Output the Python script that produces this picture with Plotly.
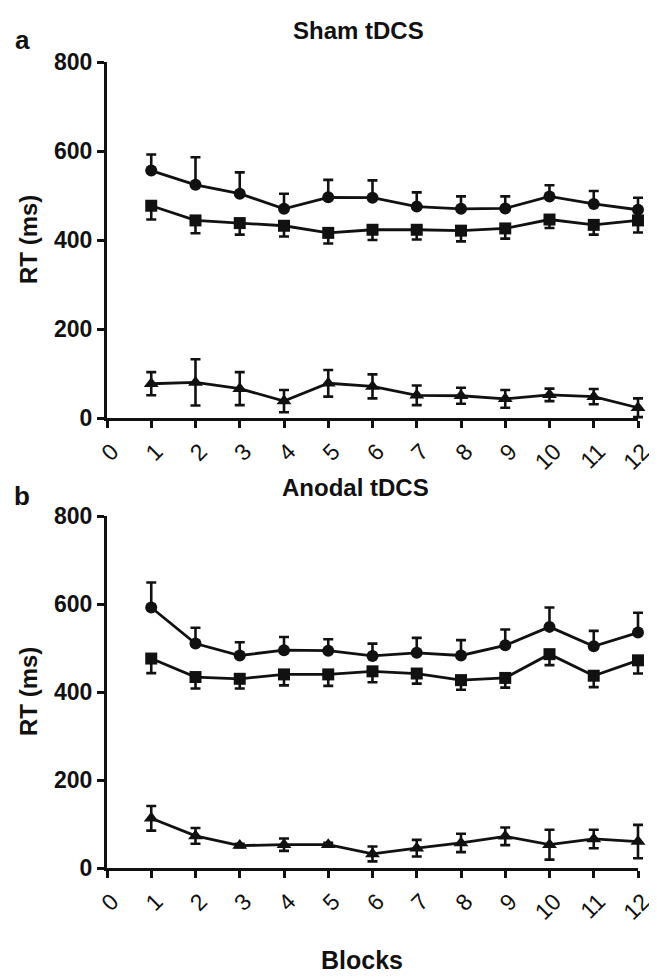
import plotly.graph_objects as go

blocks = list(range(1, 13))
x_ticks = list(range(0, 13))
y_ticks = [0, 200, 400, 600, 800]

# Panel a: Sham tDCS
sham_circle = [556, 524, 504, 470, 496, 495, 475, 470, 471, 498, 481, 468]
sham_circle_err = [36, 62, 48, 34, 39, 39, 32, 28, 27, 25, 29, 27]
sham_square = [477, 444, 438, 432, 416, 423, 423, 421, 426, 446, 434, 444]
sham_square_err = [31, 29, 26, 24, 24, 23, 22, 24, 23, 19, 22, 27]
sham_tri = [77, 80, 66, 38, 78, 71, 51, 50, 43, 52, 48, 23]
sham_tri_err = [26, 52, 37, 25, 30, 27, 22, 18, 20, 14, 17, 21]

# Panel b: Anodal tDCS
anod_circle = [592, 510, 483, 495, 494, 482, 489, 483, 506, 548, 504, 535]
anod_circle_err = [57, 36, 30, 30, 26, 28, 34, 35, 36, 44, 35, 45]
anod_square = [476, 434, 430, 440, 440, 447, 442, 427, 432, 486, 437, 472]
anod_square_err = [33, 26, 22, 25, 26, 25, 23, 22, 22, 25, 26, 30]
anod_tri = [113, 73, 51, 53, 53, 32, 45, 57, 72, 53, 66, 60]
anod_tri_err = [28, 18, 4, 14, 4, 17, 19, 21, 20, 34, 21, 38]

OFF = 8                      # default page body margin
W, H = 657 - OFF, 978 - OFF  # figure size so that it fits the window
FONT = "Liberation Sans, Arial, sans-serif"
BLACK = "#111111"

# pixel geometry of the plot areas (window coordinates)
X0, X1 = 107 - OFF, 638 - OFF
TOP_Y0, TOP_Y1 = 418 - OFF, 62 - OFF     # rows of y=0 and y=800
BOT_Y0, BOT_Y1 = 868 - OFF, 516 - OFF
XPAD, YPAD = 0.3, 40         # padding (data units) for the invisible data axes

fig = go.Figure()

def add_series(xa, ya, y, err, symbol, mode):
    zeros = [0] * len(y)
    if mode == "up":
        ey = dict(type="data", symmetric=False, array=err, arrayminus=zeros,
                  color=BLACK, thickness=2.6, width=5)
    elif mode == "down":
        ey = dict(type="data", symmetric=False, array=zeros, arrayminus=err,
                  color=BLACK, thickness=2.6, width=5)
    else:
        ey = dict(type="data", symmetric=True, array=err,
                  color=BLACK, thickness=2.6, width=5)
    fig.add_trace(go.Scatter(
        x=blocks, y=y, xaxis=xa, yaxis=ya, mode="lines+markers",
        line=dict(color=BLACK, width=2.8),
        marker=dict(symbol=symbol, size=12 if symbol != "triangle-up" else 13,
                    color=BLACK, line=dict(width=0)),
        error_y=ey, cliponaxis=False, showlegend=False, hoverinfo="skip"))

# dummy traces so the visible axes are rendered
fig.add_trace(go.Scatter(x=[None], y=[None], xaxis="x", yaxis="y", showlegend=False))
fig.add_trace(go.Scatter(x=[None], y=[None], xaxis="x2", yaxis="y2", showlegend=False))

add_series("x3", "y3", sham_circle, sham_circle_err, "circle", "up")
add_series("x3", "y3", sham_square, sham_square_err, "square", "down")
add_series("x3", "y3", sham_tri, sham_tri_err, "triangle-up", "both")
add_series("x4", "y4", anod_circle, anod_circle_err, "circle", "up")
add_series("x4", "y4", anod_square, anod_square_err, "square", "down")
add_series("x4", "y4", anod_tri, anod_tri_err, "triangle-up", "both")

pxu = (X1 - X0) / 12.0
xd = [X0 / W, X1 / W]
xd_wide = [(X0 - XPAD * pxu) / W, (X1 + XPAD * pxu) / W]

def ydom(y0, y1, pad=0.0):
    pyu = (y0 - y1) / 800.0
    return [1 - (y0 + pad * pyu) / H, 1 - (y1 - pad * pyu) / H]

xaxis_common = dict(
    range=[0, 12], tickvals=x_ticks, ticktext=[str(v) for v in x_ticks],
    tickangle=-45, ticks="outside", ticklen=7, tickwidth=3, tickcolor=BLACK,
    showline=True, linewidth=3, linecolor=BLACK, showgrid=False, zeroline=False,
    tickfont=dict(family=FONT, size=23, color=BLACK), domain=xd,
    ticklabelstandoff=1, ticklabelshift=5,
    automargin=False, fixedrange=True,
)
yaxis_common = dict(
    range=[0, 800], tickvals=y_ticks, ticks="outside", ticklen=7, tickwidth=3,
    tickcolor=BLACK, showline=True, linewidth=3, linecolor=BLACK,
    showgrid=False, zeroline=False, automargin=False, fixedrange=True,
    tickfont=dict(family=FONT, size=23, color=BLACK, weight="bold"),
)
hidden_x = dict(range=[-XPAD, 12 + XPAD], domain=xd_wide, visible=False,
                automargin=False, fixedrange=True)
hidden_y = dict(range=[-YPAD, 800 + YPAD], visible=False,
                automargin=False, fixedrange=True)

fig.update_layout(
    width=W, height=H, margin=dict(l=0, r=0, t=0, b=0),
    plot_bgcolor="rgba(0,0,0,0)", paper_bgcolor="white",
    xaxis=dict(xaxis_common, anchor="y"),
    yaxis=dict(yaxis_common, domain=ydom(TOP_Y0, TOP_Y1), anchor="x"),
    xaxis2=dict(xaxis_common, anchor="y2"),
    yaxis2=dict(yaxis_common, domain=ydom(BOT_Y0, BOT_Y1), anchor="x2"),
    xaxis3=dict(hidden_x, anchor="y3"),
    yaxis3=dict(hidden_y, domain=ydom(TOP_Y0, TOP_Y1, YPAD), anchor="x3"),
    xaxis4=dict(hidden_x, anchor="y4"),
    yaxis4=dict(hidden_y, domain=ydom(BOT_Y0, BOT_Y1, YPAD), anchor="x4"),
)

def ann(text, x, y, size, angle=0):
    fig.add_annotation(text=f"<b>{text}</b>", x=(x - OFF) / W, y=1 - (y - OFF) / H,
                       xref="paper", yref="paper", showarrow=False,
                       textangle=angle, xanchor="center", yanchor="middle",
                       font=dict(family=FONT, size=size, color=BLACK))

ann("a", 22, 40, 26)
ann("b", 22, 496, 26)
ann("Sham tDCS", 358, 30, 24)
ann("Anodal tDCS", 355, 487, 24)
ann("RT (ms)", 28, 240, 24, -90)
ann("RT (ms)", 28, 692, 24, -90)
ann("Blocks", 362, 960, 25)

fig.write_html("out.html")
